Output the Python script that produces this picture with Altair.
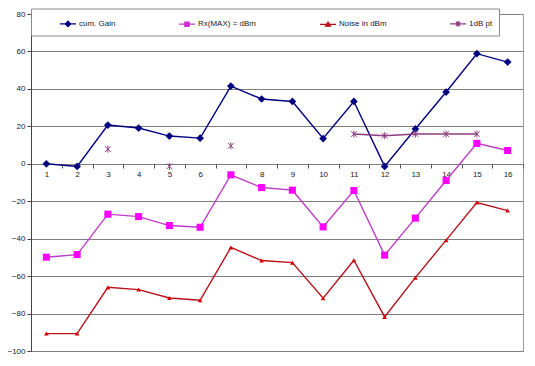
import altair as alt
import pandas as pd

categories = [str(i) for i in range(1, 17)]
series_names = ["cum. Gain", "Rx(MAX) = dBm", "Noise in dBm", "1dB pt"]

cum_gain = [0, -1.4, 20.7, 19.1, 14.8, 13.7, 41.5, 34.6, 33.3, 13.5, 33.3, -1.4, 18.6, 38.3, 58.8, 54.3]
rx_max = [-49.9, -48.5, -26.9, -28.2, -33.0, -33.9, -5.9, -12.7, -14.1, -33.7, -14.3, -48.8, -29.0, -8.9, 10.9, 7.1]
noise = [-90.7, -90.7, -66.0, -67.2, -71.7, -72.9, -44.7, -51.7, -52.8, -71.8, -51.5, -81.8, -60.8, -40.8, -20.7, -25.0]
one_db = [None, None, 7.8, None, -1.4, None, 9.6, None, None, None, 15.9, 15.0, 15.9, 15.9, 15.9, None]

y_ticks = list(range(-100, 81, 20))

line_colors = ["#000080", "#C03CC8", "#B8101A", "#8E3C80"]
marker_colors = ["#000080", "#FF00FF", "#D80000", "#9030A0"]

marker_shapes = ["diamond", "square", "triangle-up", "M-0.8,-0.8L0.8,0.8M-0.8,0.8L0.8,-0.8M0,-1L0,1"]
marker_sizes = [60, 50, 22, 50]
legend_shapes = [
    "M-1,0L1,0M0,-0.34L0.34,0L0,0.34L-0.34,0Z",
    "M-1,0L1,0M-0.27,-0.27L0.27,-0.27L0.27,0.27L-0.27,0.27Z",
    "M-1,0L1,0M0,-0.3L0.32,0.22L-0.32,0.22Z",
    "M-1,0L1,0M-0.26,-0.26L0.26,0.26M-0.26,0.26L0.26,-0.26M0,-0.36L0,0.36",
]

rows = []
for name, vals in zip(series_names, [cum_gain, rx_max, noise, one_db]):
    seg = 0
    for c, v in zip(categories, vals):
        if v is None:
            seg += 1
            continue
        rows.append({"series": name, "cat": c, "value": v, "seg": seg})
df = pd.DataFrame(rows)

FONT = "Liberation Sans"
plot_w, plot_h = 492, 337
x_offset = -round(plot_h * 100 / 180)

nbsp = "\u00a0" * 14
leg = alt.Legend(
    orient="none", legendX=0, legendY=-5.5, direction="horizontal",
    gridAlign="each", columnPadding=60, padding=6,
    strokeColor="#8a8a8a", fillColor="white",
    symbolSize=256, symbolStrokeWidth=1.2,
    labelFont=FONT, labelFontSize=8, labelOffset=2, labelColor="#222222",
    titleOrient="left", titlePadding=22, titleFontSize=8,
    labelExpr="datum.label == '1dB pt' ? '1dB pt" + nbsp + "' : datum.label",
)

stroke_scale = alt.Scale(domain=series_names, range=line_colors)
fill_scale = alt.Scale(domain=series_names, range=marker_colors)
shape_scale = alt.Scale(domain=series_names, range=legend_shapes)

x_enc = alt.X(
    "cat:O", sort=categories,
    scale=alt.Scale(type="band", domain=categories, paddingInner=0, paddingOuter=0),
    axis=alt.Axis(title=None, domain=False, tickBand="extent", tickSize=4, labelPadding=2,
                  offset=x_offset, labelAngle=0, grid=False, tickColor="#555555"),
)
y_enc = alt.Y(
    "value:Q", scale=alt.Scale(domain=[-100, 80], nice=False, zero=False),
    axis=alt.Axis(title=None, values=y_ticks, grid=True, tickSize=4, labelPadding=2,
                  gridColor="#7f7f7f", domainColor="#444444", tickColor="#444444"),
)

base = alt.Chart(df)

lines = base.mark_line(strokeWidth=1.4).encode(
    x=x_enc, y=y_enc,
    stroke=alt.Stroke("series:N", scale=stroke_scale, legend=leg, title=" "),
    detail="seg:N",
)

layers = [lines]
for name, sh, sz in zip(series_names, marker_shapes, marker_sizes):
    sub = base.transform_filter(alt.datum.series == name)
    if name == "1dB pt":
        pts = sub.mark_point(shape=sh, filled=False, size=sz, opacity=1, strokeWidth=1).encode(
            x=x_enc, y=y_enc,
            stroke=alt.Stroke("series:N", scale=stroke_scale, legend=leg, title=" "),
        )
    else:
        pts = sub.mark_point(shape=sh, filled=True, size=sz, opacity=1, strokeWidth=0).encode(
            x=x_enc, y=y_enc,
            fill=alt.Fill("series:N", scale=fill_scale, legend=leg, title=" "),
        )
    layers.append(pts)

legend_layer = base.transform_filter("false").mark_point(filled=True, opacity=1, strokeWidth=1.2).encode(
    fill=alt.Fill("series:N", scale=fill_scale, legend=leg, title=" "),
    stroke=alt.Stroke("series:N", scale=stroke_scale, legend=leg, title=" "),
    shape=alt.Shape("series:N", scale=shape_scale, legend=leg, title=" "),
)
layers.append(legend_layer)

chart = alt.layer(*layers).properties(
    width=plot_w, height=plot_h,
    autosize=alt.AutoSizeParams(type="none"),
    padding={"left": 23, "top": 6, "right": 4, "bottom": 6},
    background="white",
).configure_view(
    stroke="#9a9a9a", strokeWidth=1,
).configure_axis(
    labelFont=FONT, labelFontSize=8, labelColor="#222222",
)

chart.save("out.html", embed_options={"renderer": "svg", "actions": False})
